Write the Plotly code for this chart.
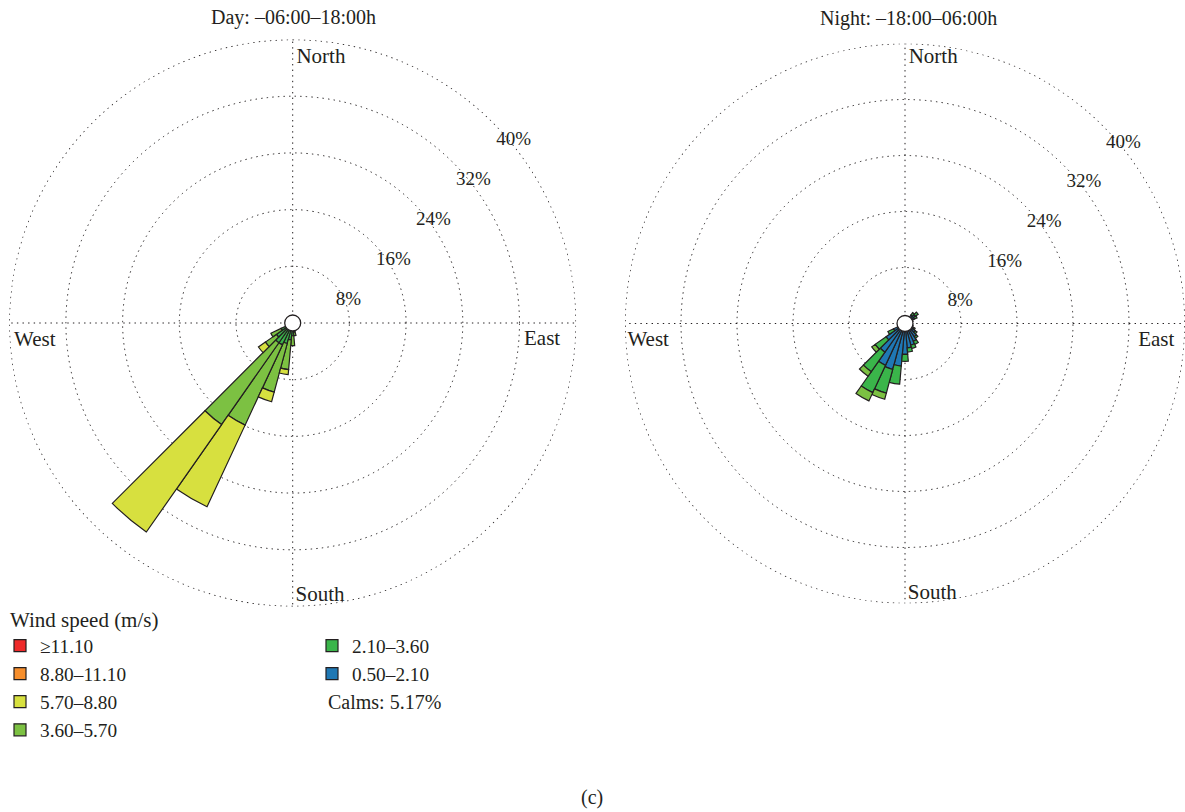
import math
import plotly.graph_objects as go

# ---- wind speed classes (m/s) and colours ----
SPEED_CLASSES = ["0.50–2.10", "2.10–3.60", "3.60–5.70", "5.70–8.80", "8.80–11.10", "≥11.10"]
CLASS_COLORS = ["#1f78b4", "#3ab54a", "#7cc142", "#d7e03f", "#f68e2c", "#ee2a2a"]

# ---- Day (06:00–18:00) frequencies, % per 10° sector ----
DAY_SECTORS = [160, 170, 180, 190, 200, 210, 220, 230, 240]
DAY_0_5 = [0.3, 0.4, 0.5, 0.6, 0.7, 0.8, 0.8, 0.6, 0.4]
DAY_2_1 = [0.4, 0.9, 1.3, 1.8, 2.3, 2.6, 2.6, 2.2, 1.4]
DAY_3_6 = [0.0, 0.5, 1.4, 4.2, 7.1, 12.5, 14.1, 1.9, 1.6]
DAY_5_7 = [0.0, 0.0, 0.0, 0.7, 1.4, 12.7, 18.5, 1.2, 0.0]
DAY_8_8 = [0, 0, 0, 0, 0, 0, 0, 0, 0]
DAY_11_1 = [0, 0, 0, 0, 0, 0, 0, 0, 0]

# ---- Night (18:00–06:00) frequencies, % per 10° sector ----
NIGHT_SECTORS = [40, 50, 60, 70, 80, 90, 100, 110, 120, 130, 140,
                 150, 160, 170, 180, 190, 200, 210, 220, 230, 240, 250]
NIGHT_0_5 = [1.5, 1.8, 1.5, 1.2, 1.0, 1.0, 1.1, 1.2, 1.4, 1.8, 2.3,
             2.8, 3.2, 3.5, 4.4, 6.1, 6.8, 6.6, 5.0, 3.3, 1.8, 1.0]
NIGHT_2_1 = [0.4, 0.5, 0.4, 0.0, 0.0, 0.0, 0.0, 0.0, 0.2, 0.3, 0.3,
             0.5, 0.5, 0.6, 1.0, 2.6, 3.5, 4.3, 3.4, 1.9, 0.9, 0.0]
NIGHT_3_6 = [0, 0, 0, 0, 0, 0, 0, 0, 0, 0, 0,
             0, 0, 0, 0, 0, 0.9, 1.3, 0.8, 0.6, 0, 0]
NIGHT_5_7 = [0] * len(NIGHT_SECTORS)
NIGHT_8_8 = [0] * len(NIGHT_SECTORS)
NIGHT_11_1 = [0] * len(NIGHT_SECTORS)

RING_VALUES = [8, 16, 24, 32, 40]
RING_LABELS = ["8%", "16%", "24%", "32%", "40%"]
COMPASS_TEXT = ["North", "East", "South", "West"]
COMPASS_THETA = [0, 90, 180, 270]
CALMS_TEXT = "Calms: 5.17%"

FONT = "Liberation Serif"
INK = "#231f20"
W, H = 1185, 812
R_MAX = 40.0
DOT = "1.4px,4.2px"


def nz(vals):
    return [v if v else None for v in vals]


def ring_label_positions(radius_px):
    """Ring labels sit on the NE diagonal, nudged a few pixels right/down."""
    scale = radius_px / R_MAX
    rs, ths = [], []
    for v in RING_VALUES:
        px = v * scale * math.sin(math.radians(45)) + 3
        py = v * scale * math.cos(math.radians(45)) - 8
        rs.append(math.hypot(px, py) / scale)
        ths.append(math.degrees(math.atan2(px, py)))
    return rs, ths


fig = go.Figure()

# (subplot, sectors, classes, show legend, radius in px, compass label radii N/E/S/W)
roses = [
    ("polar", DAY_SECTORS, [DAY_0_5, DAY_2_1, DAY_3_6, DAY_5_7, DAY_8_8, DAY_11_1], True, 283.5,
     [37.5, 35.2, 38.45, 36.4]),
    ("polar2", NIGHT_SECTORS, [NIGHT_0_5, NIGHT_2_1, NIGHT_3_6, NIGHT_5_7, NIGHT_8_8, NIGHT_11_1], False, 280.0,
     [37.9, 35.9, 38.6, 36.7]),
]

# legend placement: first column holds the four fastest classes, second column the two slowest
legend_of = ["legend2", "legend2", "legend", "legend", "legend", "legend"]
rank_of = [2, 1, 4, 3, 2, 1]

ring_theta = list(range(0, 361, 2))

for subplot, sectors, classes, show, radius_px, compass_r in roses:
    for i, vals in enumerate(classes):
        fig.add_trace(go.Barpolar(
            r=nz(vals), theta=sectors, width=10,
            name=SPEED_CLASSES[i],
            marker=dict(color=CLASS_COLORS[i], line=dict(color=INK, width=1.2)),
            subplot=subplot, showlegend=show,
            legend=legend_of[i], legendrank=rank_of[i],
            legendgroup=SPEED_CLASSES[i],
            hoverinfo="skip",
        ))
    # outermost dotted ring
    fig.add_trace(go.Scatterpolar(
        r=[R_MAX] * len(ring_theta), theta=ring_theta, mode="lines",
        line=dict(color=INK, width=1.4, dash=DOT),
        subplot=subplot, showlegend=False, hoverinfo="skip",
    ))
    # calm circle at the centre
    fig.add_trace(go.Scatterpolar(
        r=[0], theta=[0], mode="markers", subplot=subplot, showlegend=False,
        marker=dict(size=16, color="white", line=dict(color=INK, width=1.3)),
        hoverinfo="skip",
    ))
    # ring percentage labels
    lr, lt = ring_label_positions(radius_px)
    fig.add_trace(go.Scatterpolar(
        r=lr, theta=lt, mode="text",
        text=RING_LABELS, textposition="bottom right", cliponaxis=False,
        textfont=dict(family=FONT, size=19, color=INK),
        subplot=subplot, showlegend=False, hoverinfo="skip",
    ))
    # compass labels just inside the outer ring
    for name, th, rr, pos in zip(COMPASS_TEXT,
                                  [0.8, 91.5, 179.4, 268.5],
                                  compass_r,
                                  ["middle right", "bottom center", "middle right", "bottom center"]):
        fig.add_trace(go.Scatterpolar(
            r=[rr], theta=[th], mode="text", text=[name], textposition=pos,
            cliponaxis=False,
            textfont=dict(family=FONT, size=21, color=INK),
            subplot=subplot, showlegend=False, hoverinfo="skip",
        ))

polar_common = dict(
    bgcolor="white",
    barmode="stack",
    angularaxis=dict(
        rotation=90, direction="clockwise",
        tickvals=COMPASS_THETA, showticklabels=False, ticks="",
        showgrid=True, gridcolor=INK, gridwidth=1.4, griddash=DOT,
        showline=False,
    ),
    radialaxis=dict(
        range=[0, R_MAX], tickvals=RING_VALUES, showticklabels=False, ticks="",
        showgrid=True, gridcolor=INK, gridwidth=1.4, griddash=DOT,
        showline=False,
    ),
)

legend_font = dict(family=FONT, size=19.3, color=INK)


def note(text, x, y, size, xanchor="center"):
    return dict(text=text, x=x / W, y=(H - y) / H, xref="paper", yref="paper",
                xanchor=xanchor, yanchor="middle", showarrow=False,
                font=dict(family=FONT, size=size, color=INK))


fig.update_layout(
    width=W, height=H,
    margin=dict(l=0, r=0, t=0, b=0),
    paper_bgcolor="white",
    font=dict(family=FONT, size=19, color=INK),
    polar=dict(domain=dict(x=[9.2 / W, 576.2 / W], y=[(H - 606.5) / H, (H - 39.5) / H]), **polar_common),
    polar2=dict(domain=dict(x=[625 / W, 1.0], y=[(H - 603.5) / H, (H - 43.5) / H]), **polar_common),
    legend=dict(x=0, y=(H - 626.5) / H, xanchor="left", yanchor="top",
                bgcolor="rgba(0,0,0,0)", font=legend_font,
                tracegroupgap=0, itemclick=False, itemdoubleclick=False),
    legend2=dict(x=312 / W, y=(H - 626.5) / H, xanchor="left", yanchor="top",
                 bgcolor="rgba(0,0,0,0)", font=legend_font,
                 tracegroupgap=0, itemclick=False, itemdoubleclick=False),
    annotations=[
        note("Day: –06:00–18:00h", 293, 17, 20),
        note("Night: –18:00–06:00h", 908, 18, 20),
        note("Wind speed (m/s)", 8, 620, 21, "left"),
        note(CALMS_TEXT, 326, 702, 20, "left"),
        note("(c)", 592, 797, 20),
    ],
)

fig.write_html("out.html")
